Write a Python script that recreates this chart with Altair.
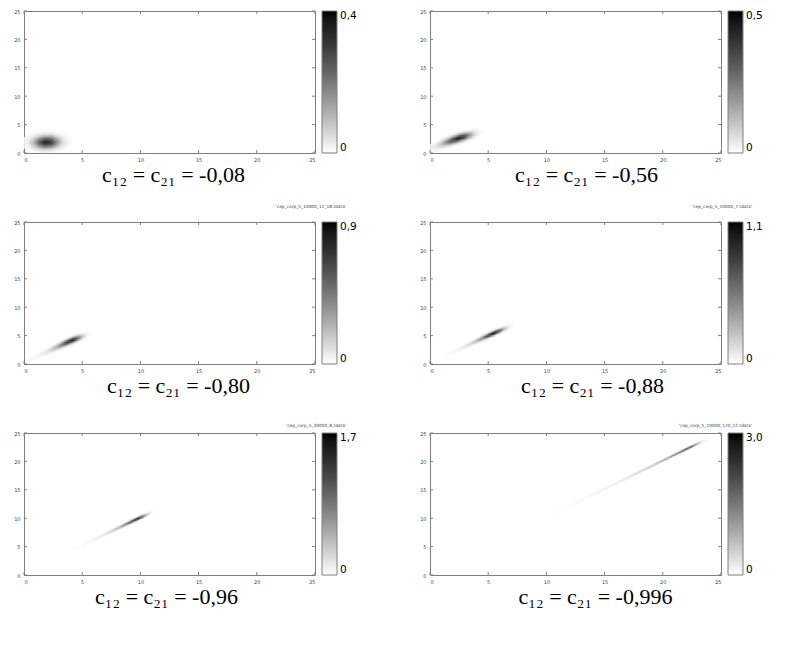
import altair as alt
import numpy as np
import pandas as pd

# ---------------- values ----------------
corr_labels = ["-0,08", "-0,56", "-0,80", "-0,88", "-0,96", "-0,996"]
cbar_max = [0.4, 0.5, 0.9, 1.1, 1.7, 3.0]          # colour-bar top label
peak_val = [0.40, 0.50, 0.90, 1.10, 1.60, 2.20]     # darkest value of each blob
peak_u = [1.92, 2.60, 4.15, 5.45, 9.85, 22.3]        # position of the maximum along x = y
peak_d = [-0.05, 0.12, 0.05, -0.05, 0.15, 0.15]      # y - x at the maximum
tilt = [0.0, -0.20, -0.03, -0.05, -0.02, 0.0]        # change of (y - x) along the blob
sig_low = [0.52, 0.82, 0.80, 0.80, 0.90, 1.00]       # core spread toward the origin
tail_k = [10.0, 1.5, 1.0, 0.9, 0.75, 0.35]           # where the core turns into a tail
sig_high = [0.52, 0.58, 0.50, 0.56, 0.48, 0.60]      # spread away from the origin
sig_cross = [1.0, 0.52, 0.36, 0.28, 0.20, 0.15]      # spread across the diagonal
file_labels = ["", "", "'cep_corp_5_10000_12_18.tdata'", "'cep_corp_5_10000_7.tdata'",
               "'cep_corp_5_30000_8.tdata'", "'cep_corp_5_10000_120_12.tdata'"]
file_dy = [0, 0, -15, -15, -7, -7]
caption_dx = [4, 11, 9, 17, -3, 20]
axis_ticks = [0, 5, 10, 15, 20, 25]

STEP = 0.1
W, H = 291, 142
FRAME = "#7f7f7f"


def density_table(i):
    edges = np.arange(0.0, 25.0, STEP)
    x0, y0 = np.meshgrid(edges, edges)
    xc, yc = x0 + STEP / 2, y0 + STEP / 2
    u = (xc + yc) / 2
    d = yc - xc
    du = u - peak_u[i]
    k = tail_k[i]
    zl = -du / sig_low[i]
    low = np.where(zl <= k, -0.5 * zl ** 2, 0.5 * k ** 2 - k * zl)
    high = -0.5 * (du / sig_high[i]) ** 2
    along = np.where(du < 0, low, high)
    dc = peak_d[i] + tilt[i] * du
    v = peak_val[i] * np.exp(along - 0.5 * ((d - dc) / sig_cross[i]) ** 2)
    keep = v > 0.012 * cbar_max[i]
    # cells overlap slightly so that no light seams show between them
    return pd.DataFrame({"x0": x0[keep], "x1": x0[keep] + STEP * 1.12,
                         "y0": y0[keep], "y1": y0[keep] + STEP * 1.2, "v": v[keep]})


def panel(i):
    df = density_table(i)
    xsc = alt.Scale(domain=[0, 25], nice=False, zero=False)
    ysc = alt.Scale(domain=[0, 25], nice=False, zero=False)
    ax = alt.Axis(values=axis_ticks, format="d", title=None)
    csc = alt.Scale(domain=[0, cbar_max[i]], range=["#ffffff", "#000000"])
    lab = "datum.value == 0 ? '0' : replace(format(datum.value, '.1f'), '.', ',')"
    heat = alt.Chart(df).mark_rect().encode(
        x=alt.X("x0:Q", scale=xsc, title=None, axis=ax),
        x2="x1:Q",
        y=alt.Y("y0:Q", scale=ysc, title=None, axis=ax),
        y2="y1:Q",
        color=alt.Color("v:Q", scale=csc, legend=alt.Legend(
            type="gradient", title=None, direction="vertical", gradientLength=H,
            gradientThickness=15, values=[0, cbar_max[i]], labelExpr=lab,
            labelFontSize=10.5, labelFont="DejaVu Sans", labelColor="black",
            gradientStrokeColor=FRAME, gradientStrokeWidth=1, offset=7,
            padding=0, labelOffset=3)),
    )
    tdf = pd.DataFrame({"t": axis_ticks})
    tick_layers = [
        alt.Chart(tdf).mark_rule(color=FRAME).encode(
            x=alt.X("t:Q", scale=xsc, axis=ax, title=None), y=alt.value(H), y2=alt.value(H - 3)),
        alt.Chart(tdf).mark_rule(color=FRAME).encode(
            x=alt.X("t:Q", scale=xsc, axis=ax, title=None), y=alt.value(0), y2=alt.value(3)),
        alt.Chart(tdf).mark_rule(color=FRAME).encode(
            y=alt.Y("t:Q", scale=ysc, axis=ax, title=None), x=alt.value(0), x2=alt.value(3)),
        alt.Chart(tdf).mark_rule(color=FRAME).encode(
            y=alt.Y("t:Q", scale=ysc, axis=ax, title=None), x=alt.value(W - 3), x2=alt.value(W)),
    ]
    layers = [heat] + tick_layers
    if file_labels[i]:
        layers.append(
            alt.Chart(pd.DataFrame({"f": [file_labels[i]]})).mark_text(
                align="right", baseline="middle", fontSize=4.3, color="#444444",
                font="DejaVu Sans").encode(
                x=alt.value(W + 31), y=alt.value(file_dy[i]), text="f:N"))
    caption = "c\u2081\u2082 = c\u2082\u2081 = " + corr_labels[i]
    return alt.layer(*layers).properties(
        width=W, height=H,
        title=alt.TitleParams(text=caption, orient="bottom", anchor="middle",
                              font="Liberation Serif", fontSize=22,
                              fontWeight="normal", color="black", offset=3,
                              dx=caption_dx[i]),
    )


chart = alt.concat(*[panel(i) for i in range(6)], columns=2,
                   spacing={"row": 69, "column": 115}, bounds="flush").resolve_scale(
    color="independent").resolve_legend(color="independent").properties(
    padding={"left": 5, "top": 0, "right": 0, "bottom": 0}
).configure_view(stroke=FRAME, strokeWidth=1).configure_axis(
    domain=False, ticks=False, grid=False, labelFontSize=5, labelColor="#444444",
    labelPadding=4, labelFont="DejaVu Sans")

chart.save("out.html", embed_options={"renderer": "svg", "actions": False})
